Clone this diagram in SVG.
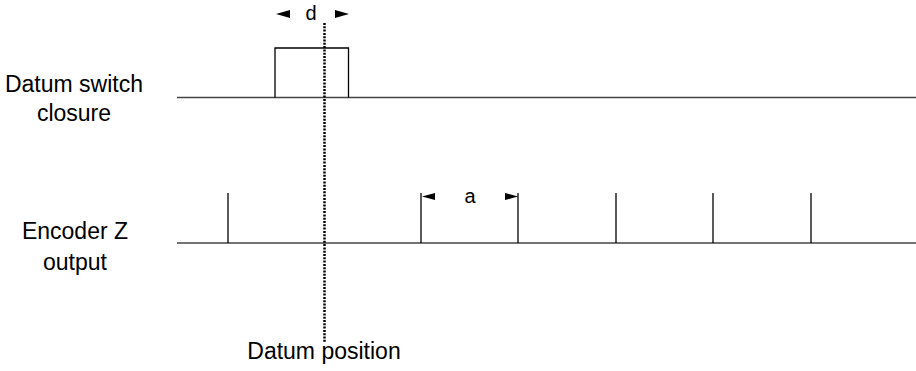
<svg xmlns="http://www.w3.org/2000/svg" width="916" height="371" viewBox="0 0 916 371">
<style>
text{font-family:"Liberation Sans",Arial,sans-serif;fill:#000}
.lbl{font-size:23px;text-anchor:middle}
.sm{font-size:20px;text-anchor:middle}
.base{stroke:#444;stroke-width:1.5;fill:none}
.sig{stroke:#000;stroke-width:1.3;fill:none}
.dot{stroke:#000;stroke-width:2.5;stroke-dasharray:2 1.3;fill:none}
.tri{fill:#000}
</style>
<rect width="916" height="371" fill="#fff"/>
<g id="label-datum-switch">
<text class="lbl" x="74" y="92">Datum switch</text>
<text class="lbl" x="74" y="121">closure</text>
</g>
<g id="label-encoder">
<text class="lbl" x="75" y="239">Encoder Z</text>
<text class="lbl" x="75" y="270">output</text>
</g>
<g id="datum-switch-signal">
<line class="base" x1="177" y1="97.5" x2="916" y2="97.5"/>
<polyline class="sig" points="275,97.5 275,48 348.5,48 348.5,97.5"/>
</g>
<g id="encoder-signal">
<line class="base" x1="177" y1="243" x2="916" y2="243"/>
<line class="sig" x1="228" y1="193" x2="228" y2="243"/>
<line class="sig" x1="421" y1="193" x2="421" y2="243"/>
<line class="sig" x1="518" y1="193" x2="518" y2="243"/>
<line class="sig" x1="616" y1="193" x2="616" y2="243"/>
<line class="sig" x1="713" y1="193" x2="713" y2="243"/>
<line class="sig" x1="811" y1="193" x2="811" y2="243"/>
</g>
<g id="dimension-d">
<polygon class="tri" points="276,14 290,10 290,18"/>
<polygon class="tri" points="349,14 335,10 335,18"/>
<text class="sm" x="311" y="20">d</text>
</g>
<g id="dimension-a">
<polygon class="tri" points="422,196.5 435,193 435,200"/>
<polygon class="tri" points="518,196.5 505,193 505,200"/>
<text class="sm" x="470" y="203">a</text>
</g>
<g id="datum-position">
<line class="dot" x1="324.5" y1="23" x2="324.5" y2="343"/>
<text class="lbl" x="324" y="359">Datum position</text>
</g>
</svg>
